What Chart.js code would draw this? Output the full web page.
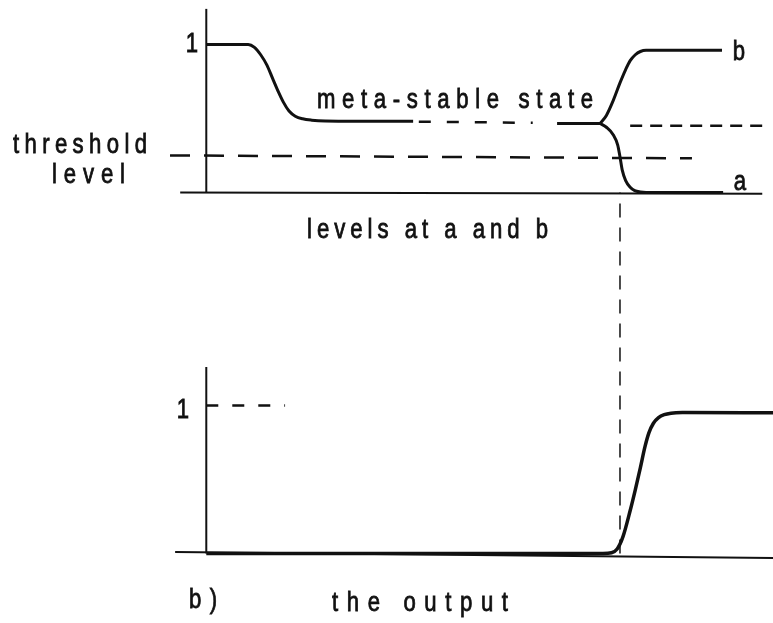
<!DOCTYPE html>
<html>
<head>
<meta charset="utf-8">
<title>Meta-stable state</title>
<script src="https://cdn.jsdelivr.net/npm/chart.js@4.4.1/dist/chart.umd.min.js"></script>
<style>
    html, body { margin: 0; padding: 0; background: #fff; }
    canvas { display: block; }
</style>
</head>
<body>
<canvas id="metaChart" width="773" height="623"></canvas>
<script>
// a) levels at a and b  -- [time, level]
var topAxis = [[0, 0], [0, 1.24]];
var topBaseline = [[-4.6, 0], [98.1, -0.01]];
var startCurve = [[0, 1.0], [7.4, 1.0], [8.5, 0.98], [9.6, 0.93], [10.7, 0.86], [11.7, 0.77], [12.6, 0.69],
    [13.6, 0.61], [14.6, 0.55], [15.7, 0.515], [17.0, 0.497], [18.6, 0.488], [21.0, 0.483], [36.5, 0.48]];
var metaDashed = [[37.5, 0.478], [57.6, 0.47]];
var metaSolid = [[61.9, 0.466], [69.5, 0.466]];
var curveB = [[69.5, 0.466], [70.6, 0.52], [71.8, 0.62], [73.0, 0.74], [74.0, 0.83], [74.8, 0.89],
    [75.7, 0.93], [76.6, 0.952], [77.6, 0.96], [91.0, 0.96]];
var curveA = [[69.5, 0.466], [70.6, 0.44], [71.8, 0.39], [72.6, 0.32], [73.0, 0.24], [73.4, 0.15],
    [74.0, 0.08], [74.8, 0.035], [75.6, 0.012], [76.6, 0.003], [77.6, 0], [91.2, 0]];
var metaRight = [[74.8, 0.45], [99.1, 0.45]];
var threshold = [[-6.4, 0.25], [85.7, 0.23]];

// b) the output  -- [time, level]
var bottomAxis = [[0, 0], [0, 1.26]];
var bottomBaseline = [[-5.5, 0.01], [100, -0.03]];
var oneLevel = [[0, 1], [13.9, 1]];
var output = [[0, 0], [70.0, 0], [71.5, 0.005], [72.5, 0.03], [73.5, 0.11], [74.8, 0.29], [75.7, 0.43],
    [76.6, 0.58], [77.4, 0.72], [78.1, 0.815], [78.9, 0.88], [79.8, 0.918], [80.8, 0.938], [82.0, 0.948],
    [84.0, 0.952], [100, 0.95]];
// the decision moment (a crosses threshold) carried down to the output panel
var decision = [[73.0, 0], [73.0, 2.44]];

// text labels: [text, left px, right px, baseline px]
var labels = [
    ['1', 189, 195, 52],
    ['threshold', 13, 147, 153],
    ['level', 52, 125, 183],
    ['meta-stable state', 317, 593, 108],
    ['b', 733, 745, 60],
    ['a', 733, 747, 190],
    ['levels at a and b', 307, 548, 238],
    ['1', 180, 186, 418],
    ['b)', 189, 217, 608],
    ['the output', 332, 508, 611]
];

function pts(arr) {
    return arr.map(p => ({ x: p[0], y: p[1] }));
}

function line(arr, axis, width, dash, smooth) {
    return {
        data: pts(arr),
        yAxisID: axis,
        showLine: true,
        borderColor: '#111',
        borderWidth: width,
        borderDash: dash || [],
        pointRadius: 0,
        fill: false,
        tension: 0,
        cubicInterpolationMode: smooth ? 'monotone' : 'default',
        clip: false
    };
}

// draws text with spread out letters, like stencil lettering
var lettering = {
    id: 'lettering',
    afterDraw(chart) {
        var ctx = chart.ctx;
        var squeeze = 0.82;
        ctx.save();
        ctx.fillStyle = '#111';
        ctx.strokeStyle = '#111';
        ctx.lineWidth = 0.8;
        ctx.font = '27px "Liberation Sans"';
        ctx.textBaseline = 'alphabetic';
        labels.forEach(function (l) {
            var chars = l[0].split('');
            var widths = chars.map(c => ctx.measureText(c).width * squeeze);
            var total = widths.reduce((a, b) => a + b, 0);
            var gap = chars.length > 1 ? (l[2] - l[1] - total) / (chars.length - 1) : 0;
            var x = chars.length > 1 ? l[1] : (l[1] + l[2] - total) / 2;
            chars.forEach(function (c, i) {
                ctx.save();
                ctx.translate(x, l[3]);
                ctx.scale(squeeze, 1);
                ctx.fillText(c, 0, 0);
                ctx.strokeText(c, 0, 0);
                ctx.restore();
                x += widths[i] + gap;
            });
        });
        ctx.restore();
    }
};

var ctx = document.getElementById('metaChart').getContext('2d');
var chart = new Chart(ctx, {
    type: 'scatter',
    data: {
        datasets: [
            line(topAxis, 'y', 2),
            line(topBaseline, 'y', 2),
            line(threshold, 'y', 2.5, [20, 14]),
            line(startCurve, 'y', 3, null, true),
            line(metaDashed, 'y', 2.5, [12, 16]),
            line(metaSolid, 'y', 3),
            line(curveB, 'y', 3, null, true),
            line(curveA, 'y', 3, null, true),
            line(metaRight, 'y', 2.5, [12, 8]),
            line(bottomAxis, 'y2', 2),
            line(bottomBaseline, 'y2', 2),
            line(oneLevel, 'y2', 2.5, [12, 14]),
            line(output, 'y2', 3.5, null, true),
            line(decision, 'y2', 1.5, [14, 10])
        ]
    },
    options: {
        responsive: false,
        animation: false,
        events: [],
        layout: { padding: 0, autoPadding: false },
        plugins: {
            legend: { display: false },
            tooltip: { enabled: false }
        },
        scales: {
            x: { type: 'linear', min: -36.4, max: 100, display: false },
            y: { type: 'linear', min: -2.91, max: 1.30, display: false },
            y2: { type: 'linear', min: -0.47, max: 3.74, display: false }
        }
    },
    plugins: [lettering]
});
</script>
</body>
</html>
